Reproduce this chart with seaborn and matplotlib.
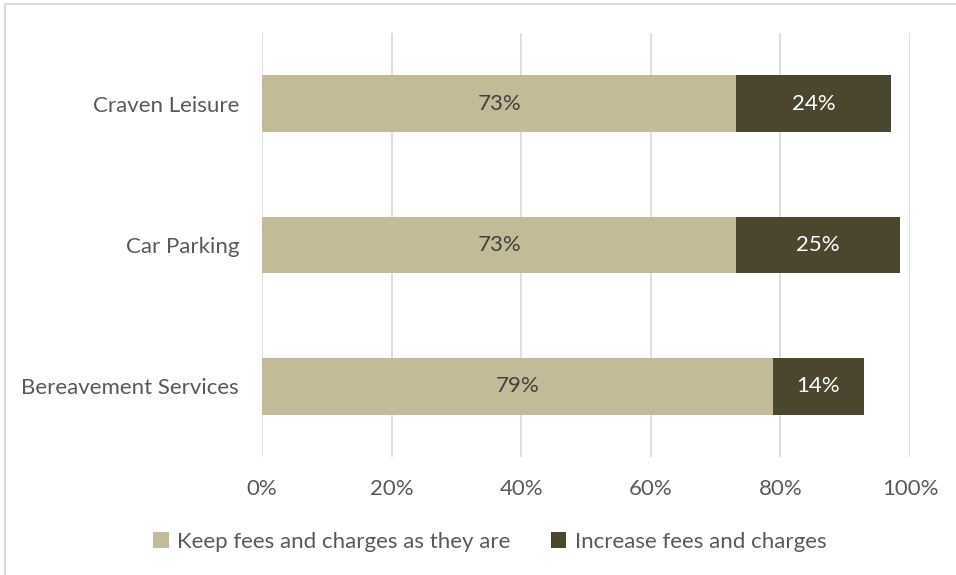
import matplotlib
matplotlib.use("Agg")
import matplotlib.pyplot as plt
import seaborn as sns
import pandas as pd
import numpy as np
from matplotlib.patches import Rectangle, Patch

categories = ["Craven Leisure", "Car Parking", "Bereavement Services"]
keep = [73.2, 73.2, 78.8]
increase = [23.9, 25.3, 14.1]
keep_labels = ["73%", "73%", "79%"]
increase_labels = ["24%", "25%", "14%"]
xticks = [0, 20, 40, 60, 80, 100]
xtick_labels = ["0%", "20%", "40%", "60%", "80%", "100%"]
series_names = ["Keep fees and charges as they are", "Increase fees and charges"]

c_keep = "#C3BB98"
c_inc = "#4B462E"
txt = "#595959"
FS = 16

sns.set_theme(style="white")
plt.rcParams["font.family"] = ["Lato", "DejaVu Sans"]

df = pd.DataFrame({"cat": categories, "keep": keep, "inc": increase})
df["total"] = df["keep"] + df["inc"]

W, H = 956, 575
fig = plt.figure(figsize=(W / 100, H / 100), dpi=100)
ax = fig.add_axes([262 / W, 1 - 457 / H, (910 - 262) / W, (457 - 33) / H])

sns.barplot(data=df, y="cat", x="total", color=c_inc, width=0.4, ax=ax,
            orient="h", saturation=1, linewidth=0)
sns.barplot(data=df, y="cat", x="keep", color=c_keep, width=0.4, ax=ax,
            orient="h", saturation=1, linewidth=0)

ax.set_xlim(0, 100)
ax.set_ylim(2.5, -0.5)
ax.set_xticks(xticks)
ax.set_xticklabels(xtick_labels)
ax.grid(axis="x", color="#D9D9D9", linewidth=1.2)
ax.grid(axis="y", visible=False)
ax.set_axisbelow(True)
for s in ax.spines.values():
    s.set_visible(False)
ax.set_xlabel("")
ax.set_ylabel("")
ax.tick_params(axis="x", colors=txt, labelsize=FS, length=0, pad=16)
ax.tick_params(axis="y", colors=txt, labelsize=FS, length=0, pad=16.5)

for i in range(len(categories)):
    ax.text(keep[i] / 2, i, keep_labels[i], ha="center", va="center",
            color="#404040", fontsize=FS)
    ax.text(keep[i] + increase[i] / 2, i, increase_labels[i], ha="center",
            va="center", color="white", fontsize=FS)

handles = [Patch(facecolor=c_keep, edgecolor="none"),
           Patch(facecolor=c_inc, edgecolor="none")]
fig.legend(handles, series_names, loc="center", bbox_to_anchor=(490 / W, 1 - 542 / H),
           ncol=2, frameon=False, fontsize=FS, labelcolor=txt,
           handlelength=0.7, handleheight=0.7, handletextpad=0.4, columnspacing=1.8)

fig.patches.append(Rectangle((5 / W, -0.1), 1.2, (1 - 4 / H) + 0.1,
                             transform=fig.transFigure, fill=False,
                             edgecolor="#D9D9D9", linewidth=1.5))

fig.savefig("out.png", dpi=100, facecolor="white")
